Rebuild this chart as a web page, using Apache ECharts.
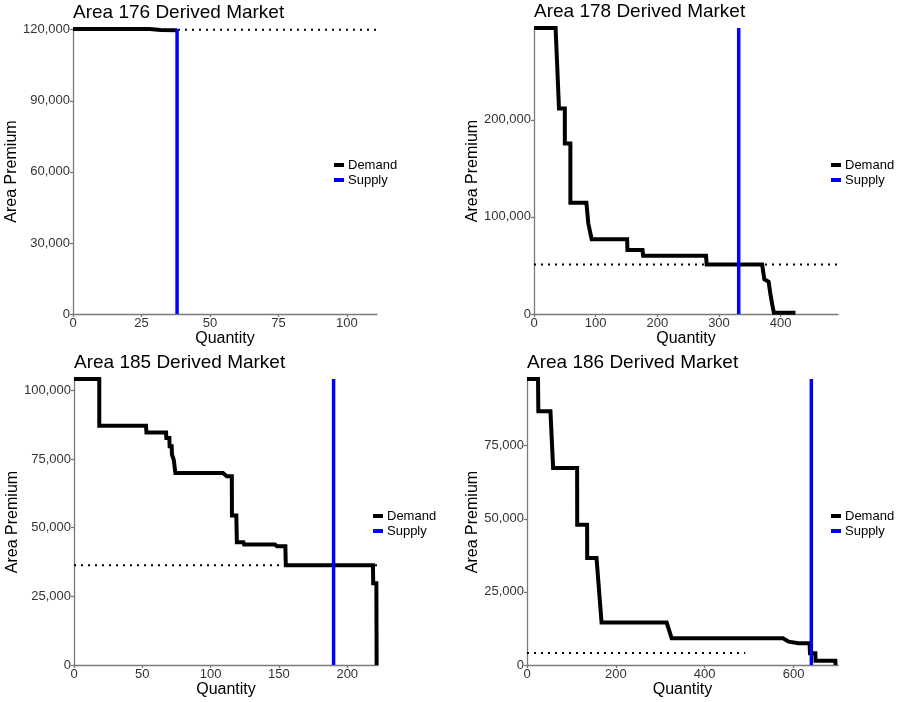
<!DOCTYPE html>
<html><head><meta charset="utf-8">
<script src="https://cdn.jsdelivr.net/npm/echarts@6/dist/echarts.min.js"></script>
<style>html,body{margin:0;padding:0;background:#fff}#c{width:900px;height:702px}</style>
</head><body><div id="c"></div>
<script>
const titles = ['Area 176 Derived Market', 'Area 178 Derived Market', 'Area 185 Derived Market', 'Area 186 Derived Market'];
const legendNames = ['Demand', 'Supply'];

// Area 176
const demand176Q = [0, 28, 32, 38];
const demand176P = [120300, 120300, 119900, 119800];
const supply176Q = 38;
const equil176P = 120000;
const equil176End = 111;
const xMax176 = 111, yMax176 = 120300;
const xTicks176 = [0, 25, 50, 75, 100];
const yTicks176 = [0, 30000, 60000, 90000, 120000];

// Area 178
const demand178Q = [0, 35, 37, 40.5, 50, 50, 59, 59, 85, 88, 93.5, 151, 151.5, 176, 177, 279, 280, 370, 373.5, 380.5, 383, 386, 389, 424];
const demand178P = [294500, 294500, 265000, 211600, 211600, 175500, 175500, 114600, 114600, 93400, 77000, 77000, 65900, 65900, 60000, 60000, 51000, 51000, 35700, 33300, 22000, 11000, 1200, 1200];
const supply178Q = 332;
const equil178P = 51000;
const equil178End = 493;
const xMax178 = 493, yMax178 = 294500;
const xTicks178 = [0, 100, 200, 300, 400];
const yTicks178 = [0, 100000, 200000];

// Area 185
const demand185Q = [0, 18.5, 18.5, 52.7, 53, 67.4, 67.6, 69.8, 70, 71.5, 71.7, 72.8, 73, 74, 74.2, 109, 111.8, 115.5, 115.6, 118.8, 119.2, 124, 124.5, 147, 148.5, 154.7, 155, 218.8, 219, 221.3, 221.5];
const demand185P = [104100, 104100, 87100, 87100, 84600, 84600, 82600, 82600, 79600, 79600, 76600, 76600, 74700, 74700, 69900, 69900, 68700, 68700, 54400, 54400, 44700, 44700, 43900, 43900, 43200, 43200, 36300, 36300, 29800, 29800, 0];
const supply185Q = 190;
const equil185P = 36300;
const equil185End = 222.5;
const xMax185 = 222.5, yMax185 = 104100;
const xTicks185 = [0, 50, 100, 150, 200];
const yTicks185 = [0, 25000, 50000, 75000, 100000];

// Area 186
const demand186Q = [0, 24.8, 25.5, 52.8, 58.8, 112.8, 113, 135.3, 135.5, 156.5, 167.8, 314.4, 325.6, 576, 589, 611, 636, 637, 649, 649.5, 694, 694.5];
const demand186P = [97800, 97800, 86750, 86750, 67400, 67400, 47950, 47950, 36550, 36550, 14500, 14500, 9130, 9130, 7980, 7420, 7420, 4000, 4000, 1470, 1470, 0];
const supply186Q = 640;
const equil186P = 4100;
const equil186End = 491;
const xMax186 = 700, yMax186 = 97800;
const xTicks186 = [0, 200, 400, 600];
const yTicks186 = [0, 25000, 50000, 75000];

const panels = [
  {title: titles[0], dq: demand176Q, dp: demand176P, sq: supply176Q, ep: equil176P, ee: equil176End, xmax: xMax176, ymax: yMax176, xt: xTicks176, yt: yTicks176,
   grid: {left: 73, top: 29, width: 304, height: 285}, nameGapY: 50, legend: {left: 334, top: 158}},
  {title: titles[1], dq: demand178Q, dp: demand178P, sq: supply178Q, ep: equil178P, ee: equil178End, xmax: xMax178, ymax: yMax178, xt: xTicks178, yt: yTicks178,
   grid: {left: 534, top: 28, width: 304, height: 286}, nameGapY: 51, legend: {left: 831, top: 158}},
  {title: titles[2], dq: demand185Q, dp: demand185P, sq: supply185Q, ep: equil185P, ee: equil185End, xmax: xMax185, ymax: yMax185, xt: xTicks185, yt: yTicks185,
   grid: {left: 74, top: 379, width: 304, height: 286}, nameGapY: 51, legend: {left: 373, top: 509}},
  {title: titles[3], dq: demand186Q, dp: demand186P, sq: supply186Q, ep: equil186P, ee: equil186End, xmax: xMax186, ymax: yMax186, xt: xTicks186, yt: yTicks186,
   grid: {left: 527, top: 379, width: 311, height: 286}, nameGapY: 44, legend: {left: 831, top: 509}}
];

const FONT = '"Liberation Sans", Arial, sans-serif';
const fmt = v => String(Math.round(v)).replace(/\B(?=(\d{3})+(?!\d))/g, ',');
const axisLineStyle = {color: '#7a7a7a', width: 1.3};

const option = {
  animation: false,
  backgroundColor: '#ffffff',
  textStyle: {fontFamily: FONT},
  title: panels.map(p => ({
    text: p.title, left: p.grid.left, top: p.grid.top - 26, padding: 0,
    textStyle: {fontFamily: FONT, fontSize: 19, fontWeight: 'normal', color: '#000'}
  })),
  legend: panels.map(p => ({
    data: legendNames, orient: 'vertical', left: p.legend.left, top: p.legend.top,
    icon: 'rect', itemWidth: 10, itemHeight: 4, itemGap: 1, padding: 0,
    selectedMode: false,
    textStyle: {fontFamily: FONT, fontSize: 13, color: '#000', padding: [0, 0, 0, -1], lineHeight: 14}
  })),
  grid: panels.map(p => Object.assign({containLabel: false}, p.grid)),
  xAxis: panels.map((p, i) => ({
    type: 'value', gridIndex: i, min: 0, max: p.xmax,
    name: 'Quantity', nameLocation: 'middle', nameGap: 14,
    nameTextStyle: {fontFamily: FONT, fontSize: 16, color: '#000'},
    axisLine: {show: true, onZero: false, lineStyle: axisLineStyle},
    axisTick: {show: true, length: 3, lineStyle: axisLineStyle, customValues: p.xt},
    axisLabel: {customValues: p.xt, formatter: fmt, fontSize: 13, color: '#333', margin: 3, fontFamily: FONT},
    splitLine: {show: false}
  })),
  yAxis: panels.map((p, i) => ({
    type: 'value', gridIndex: i, min: 0, max: p.ymax,
    name: 'Area Premium', nameLocation: 'middle', nameGap: p.nameGapY,
    nameTextStyle: {fontFamily: FONT, fontSize: 16, color: '#000'},
    axisLine: {show: true, onZero: false, lineStyle: axisLineStyle},
    axisTick: {show: true, length: 3, lineStyle: axisLineStyle, customValues: p.yt},
    axisLabel: {customValues: p.yt, formatter: fmt, fontSize: 13, color: '#333', margin: 3, fontFamily: FONT},
    splitLine: {show: false}
  })),
  series: panels.flatMap((p, i) => [
    {
      name: 'Equilibrium', type: 'line', xAxisIndex: i, yAxisIndex: i, showSymbol: false, silent: true,
      data: [[0, p.ep], [p.ee, p.ep]],
      lineStyle: {color: '#000', width: 2, type: [2, 5]}, z: 1
    },
    {
      name: 'Demand', type: 'line', xAxisIndex: i, yAxisIndex: i, showSymbol: false,
      data: p.dq.map((q, k) => [q, p.dp[k]]),
      itemStyle: {color: '#000'},
      lineStyle: {color: '#000', width: 4, join: 'miter'}, z: 2
    },
    {
      name: 'Supply', type: 'line', xAxisIndex: i, yAxisIndex: i, showSymbol: false,
      data: [[p.sq, 0], [p.sq, p.ymax]],
      itemStyle: {color: '#0000ff'},
      lineStyle: {color: '#0000ff', width: 3.5}, z: 3
    }
  ])
};

const chart = echarts.init(document.getElementById('c'), null, {renderer: 'canvas'});
chart.setOption(option);
</script>
</body></html>
